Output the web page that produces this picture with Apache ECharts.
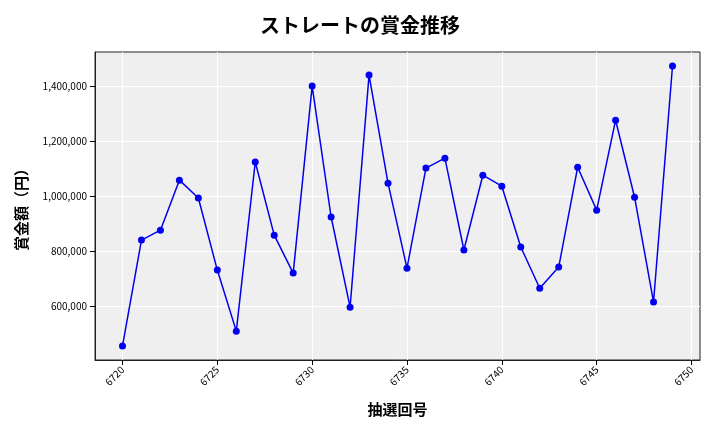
<!DOCTYPE html>
<html><head><meta charset="utf-8">
<script src="https://cdn.jsdelivr.net/npm/echarts@6/dist/echarts.min.js"></script>
<style>body{margin:0}#c{width:720px;height:432px}</style></head>
<body><div id="c"></div>
<script>
const draws = [6720,6721,6722,6723,6724,6725,6726,6727,6728,6729,6730,6731,6732,6733,6734,6735,6736,6737,6738,6739,6740,6741,6742,6743,6744,6745,6746,6747,6748,6749];
const prizes = [455000,840000,876000,1058000,993000,731000,509000,1124000,858000,720000,1400000,924000,596000,1440000,1047000,738000,1102000,1138000,804000,1076000,1036000,815000,665000,742000,1105000,949000,1276000,996000,615000,1473000];
const xTicks = [6720,6725,6730,6735,6740,6745,6750];
const yTicks = [600000,800000,1000000,1200000,1400000];
const font = '"Noto Sans CJK JP", "Noto Sans", sans-serif';
const chart = echarts.init(document.getElementById('c'));
chart.setOption({
  animation:false,
  title:{text:'ストレートの賞金推移',left:'center',top:10,textStyle:{fontFamily:font,fontSize:20,fontWeight:'bold',color:'#000'}},
  grid:{left:95,right:20,top:52,bottom:72,backgroundColor:'#efefef',show:true,borderWidth:1,borderColor:'#222'},
  xAxis:{type:'value',min:6718.55,max:6750.45,name:'抽選回号',nameLocation:'middle',nameGap:42,
    nameTextStyle:{fontFamily:font,fontSize:15,fontWeight:'bold',color:'#000'},
    axisLine:{show:true,lineStyle:{color:'#222'}},
    axisTick:{show:true,customValues:xTicks,lineStyle:{color:'#000'}},
    axisLabel:{customValues:xTicks,rotate:45,fontSize:10,color:'#000',fontFamily:font,formatter:v=>String(v)},
    splitLine:{show:true,lineStyle:{color:'#fff',width:1}}},
  yAxis:{type:'value',min:404000,max:1524000,name:'賞金額（円）',nameLocation:'middle',nameGap:66,
    nameTextStyle:{fontFamily:font,fontSize:15,fontWeight:'bold',color:'#000'},
    axisLine:{show:true,lineStyle:{color:'#222'}},
    axisTick:{show:true,customValues:yTicks,lineStyle:{color:'#000'}},
    axisLabel:{customValues:yTicks,fontSize:10,color:'#000',fontFamily:font,formatter:v=>v.toLocaleString('en-US')},
    splitLine:{show:true,lineStyle:{color:'#fff',width:1}}},
  series:[{type:'line',data:draws.map((d,i)=>[d,prizes[i]]),symbol:'circle',symbolSize:7,
    lineStyle:{color:'#0000ee',width:1.5},itemStyle:{color:'#0000ee'}}]
});
</script></body></html>
